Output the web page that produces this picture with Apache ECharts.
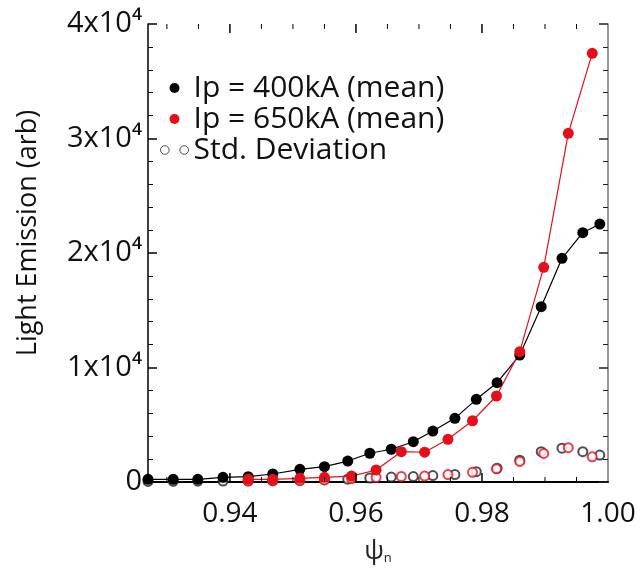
<!DOCTYPE html>
<html>
<head>
<meta charset="utf-8">
<script src="https://cdn.jsdelivr.net/npm/echarts@6/dist/echarts.min.js"></script>
<style>
  html, body { margin: 0; padding: 0; background: #fff; }
  #chart { width: 640px; height: 583px; }
</style>
</head>
<body>
<div id="chart"></div>
<script>
// Ip = 400kA
const psi400 = [0.9270, 0.9310, 0.9349, 0.9389, 0.9429, 0.9468, 0.9511, 0.9550, 0.9587, 0.9622, 0.9656,
  0.9691, 0.9722, 0.9757, 0.9791, 0.9824, 0.9860, 0.9894, 0.9927, 0.9960, 0.9987]
const mean400 = [236, 236, 236, 410, 463, 700, 1110, 1340, 1830, 2510, 2860,
  3520, 4450, 5560, 7220, 8670, 11090, 15310, 19540, 21770, 22530]
const std400 = [50, 60, 70, 80, 100, 120, 150, 200, 250, 350, 430,
  470, 560, 650, 900, 1200, 1900, 2650, 2950, 2650, 2350]

// Ip = 650kA
const psi650 = [0.9429, 0.9468, 0.9511, 0.9550, 0.9593, 0.9632, 0.9672, 0.9709, 0.9746, 0.9785, 0.9823,
  0.9860, 0.9898, 0.9937, 0.9975]
const mean650 = [236, 236, 320, 410, 520, 1050, 2650, 2600, 3730, 5350, 7510,
  11380, 18750, 30450, 37440]
const std650 = [80, 100, 130, 180, 300, 400, 480, 520, 650, 850, 1150,
  1800, 2500, 3000, 2200]

// x axis labels and ticks
const xLabelValues = [0.94, 0.96, 0.98, 1.00]
const xMajorTicks = [0.94, 0.96, 0.98]
const xMinorTicks = [0.930, 0.935, 0.945, 0.950, 0.955, 0.965, 0.970, 0.975, 0.985, 0.990, 0.995]

const chart = echarts.init(document.getElementById('chart'))

const red = '#e3101c'
const font = 'Open Sans'
const yMax = 40000

const pairs = (xs, ys) => xs.map((x, i) => [x, ys[i]])

// inward ticks on the bottom and top edges, placed through the x scale
const tickSeries = (values, len, w) => ({
  type: 'custom',
  silent: true,
  clip: false,
  z: 5,
  data: values.map(v => [v]),
  renderItem: (params, api) => {
    const b = api.coord([api.value(0), 0])
    const t = api.coord([api.value(0), yMax])
    const style = { stroke: '#000', lineWidth: w }
    return {
      type: 'group',
      children: [
        { type: 'line', shape: { x1: b[0], y1: b[1], x2: b[0], y2: b[1] - len }, style },
        { type: 'line', shape: { x1: t[0], y1: t[1], x2: t[0], y2: t[1] + len }, style }
      ]
    }
  }
})

const option = {
  animation: false,
  grid: { left: 148, top: 24, width: 460, height: 458 },
  legend: {
    orient: 'vertical',
    left: 153,
    top: 68,
    itemWidth: 28,
    itemHeight: 10,
    itemGap: 1,
    textStyle: { fontFamily: font, fontSize: 30, lineHeight: 30, color: '#111' },
    data: [
      { name: 'Ip = 400kA (mean)', icon: 'circle' },
      { name: 'Ip = 650kA (mean)', icon: 'circle' },
      {
        name: 'Std. Deviation',
        icon: 'path://M1,5A4,4 0 1 1 9,5A4,4 0 1 1 1,5ZM19,5A4,4 0 1 1 27,5A4,4 0 1 1 19,5Z',
        itemStyle: { color: 'none', borderColor: '#222', borderWidth: 1 }
      }
    ]
  },
  xAxis: {
    type: 'value',
    min: 0.927,
    max: 1.0,
    splitLine: { show: false },
    name: '{a|ψ}{b|n}',
    nameLocation: 'middle',
    nameGap: 56,
    nameTextStyle: {
      rich: {
        a: { fontFamily: font, fontSize: 26, color: '#222' },
        b: { fontFamily: font, fontSize: 13, color: '#222', padding: [14, 0, 0, 0] }
      }
    },
    axisLine: { show: true, onZero: false, lineStyle: { color: '#000', width: 2 } },
    axisTick: { show: false },
    axisLabel: {
      customValues: xLabelValues,
      margin: 18,
      fontFamily: font,
      fontSize: 28,
      color: '#111',
      formatter: v => v.toFixed(2)
    }
  },
  yAxis: [
    {
      type: 'value',
      min: 0,
      max: yMax,
      interval: 10000,
      position: 'left',
      name: 'Light Emission (arb)',
      nameLocation: 'middle',
      nameGap: 106,
      nameTextStyle: { fontFamily: font, fontSize: 27, color: '#111', padding: [0, 0, 0, 40] },
      splitLine: { show: false },
      axisLine: { show: true, lineStyle: { color: '#000', width: 1.5 } },
      axisTick: { show: true, inside: true, length: 9, lineStyle: { color: '#000', width: 1.5 } },
      minorTick: { show: true, splitNumber: 5, length: 5, lineStyle: { color: '#000' } },
      axisLabel: {
        margin: 6,
        fontFamily: font,
        fontSize: 29,
        color: '#111',
        formatter: v => v === 0 ? '0' : (v / 10000) + 'x10⁴'
      }
    },
    {
      type: 'value',
      min: 0,
      max: yMax,
      interval: 10000,
      position: 'right',
      splitLine: { show: false },
      axisLabel: { show: false },
      axisLine: { show: true, lineStyle: { color: '#777', width: 1.5 } },
      axisTick: { show: true, inside: true, length: 9, lineStyle: { color: '#222', width: 1.5 } },
      minorTick: { show: true, splitNumber: 5, length: 5, lineStyle: { color: '#222' } }
    }
  ],
  series: [
    tickSeries(xMajorTicks, 9, 1.5),
    tickSeries(xMinorTicks, 5, 1),
    {
      name: 'Std. Deviation',
      type: 'scatter',
      symbol: 'emptyCircle',
      symbolSize: 9,
      itemStyle: { color: '#222', borderWidth: 1 },
      data: pairs(psi400, std400)
    },
    {
      name: 'Std. Deviation (650kA)',
      type: 'scatter',
      symbol: 'emptyCircle',
      symbolSize: 9,
      itemStyle: { color: red, borderWidth: 1 },
      data: pairs(psi650, std650)
    },
    {
      name: 'Ip = 400kA (mean)',
      type: 'line',
      symbol: 'circle',
      symbolSize: 11,
      itemStyle: { color: '#000' },
      lineStyle: { color: '#000', width: 1.2 },
      data: pairs(psi400, mean400)
    },
    {
      name: 'Ip = 650kA (mean)',
      type: 'line',
      symbol: 'circle',
      symbolSize: 11,
      itemStyle: { color: red },
      lineStyle: { color: red, width: 1.2 },
      data: pairs(psi650, mean650)
    }
  ]
}

chart.setOption(option)
</script>
</body>
</html>
